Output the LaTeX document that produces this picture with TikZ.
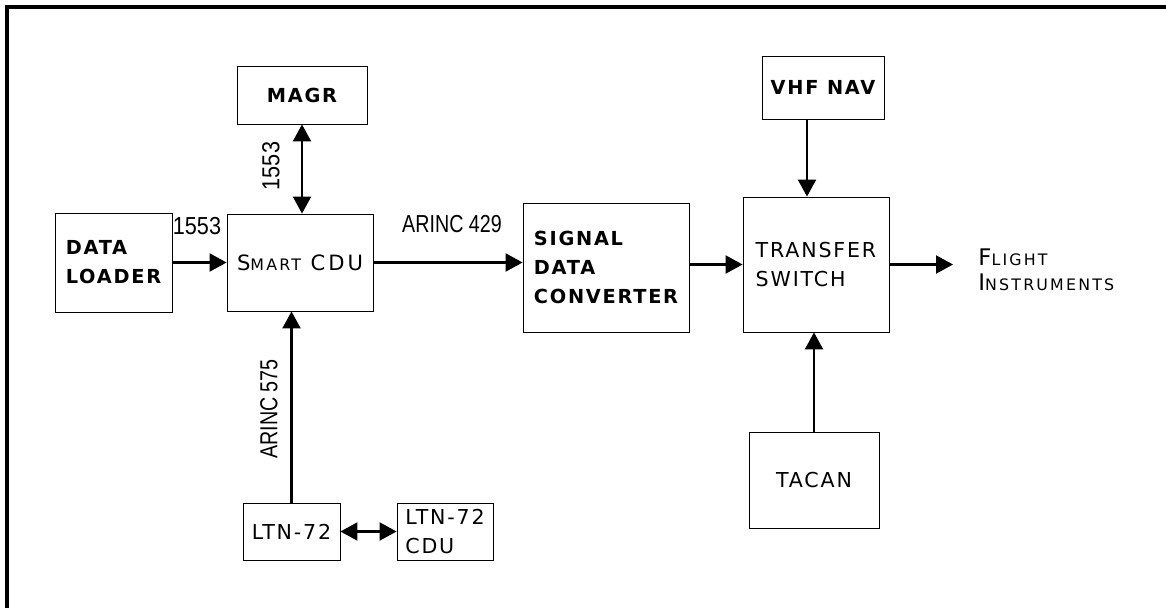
\documentclass[tikz,border=0pt]{standalone}
\usepackage{fontspec}
\usetikzlibrary{positioning, arrows.meta}
\newfontfamily\platefont[LetterSpace=9]{DejaVu Sans}
\newfontfamily\widefont[LetterSpace=14]{DejaVu Sans}
\newfontfamily\busfont[FakeStretch=0.8]{Liberation Sans}
\newfontfamily\numfont[FakeStretch=0.88]{Liberation Sans}
\newcommand\lowcaps[1]{{\fontsize{9}{16}\selectfont #1}}

\begin{document}
\begin{tikzpicture}[x=0.02cm, y=-0.02cm,
  unit/.style={draw, line width=0.5pt, inner sep=1pt, align=left,
               font=\platefont\fontsize{11.7}{16}\selectfont},
  boldunit/.style={unit, font=\platefont\bfseries\fontsize{11}{16.5}\selectfont},
  link/.style={line width=1.2pt, -{Triangle[length=0.34cm, width=0.36cm]}},
  twoway/.style={link, {Triangle[length=0.34cm, width=0.36cm]}-{Triangle[length=0.34cm, width=0.36cm]}},
  buslabel/.style={inner sep=0pt, font=\busfont\fontsize{14}{14}\selectfont},
  numlabel/.style={inner sep=0pt, font=\numfont\fontsize{14}{14}\selectfont},
]
  \useasboundingbox (0,0) rectangle (1166,608);
  % frame
  \draw[line width=0.08cm] (7,608) -- (7,7) -- (1166,7);

  % units
  \node[boldunit, minimum width=2.6cm, minimum height=1.16cm] (magr) at (302,95) {MAGR};
  \node[boldunit, minimum width=2.34cm, minimum height=1.98cm] (loader) at (113.5,262.5) {DATA\\LOADER};
  \node[unit, minimum width=2.92cm, minimum height=1.94cm, font=\widefont\fontsize{12}{16}\selectfont] (cdu) at (300,262.5) {S\lowcaps{MART} CDU};
  \node[boldunit, minimum width=3.32cm, minimum height=2.58cm] (sdc) at (606,267.5) {SIGNAL\\DATA\\CONVERTER};
  \node[unit, minimum width=2.92cm, minimum height=2.7cm] (ts) at (816,264.5) {TRANSFER\\SWITCH};
  \node[boldunit, minimum width=2.44cm, minimum height=1.26cm] (vhf) at (823,87.5) {VHF NAV};
  \node[unit, minimum width=2.6cm, minimum height=1.92cm] (tacan) at (814,480) {TACAN};
  \node[unit, minimum width=1.94cm, minimum height=1.14cm] (ltn) at (291.5,531.5) {LTN-72};
  \node[unit, minimum width=1.92cm, minimum height=1.14cm] (ltncdu) at (445,531.5) {LTN-72\\CDU};
  \node[anchor=west, align=left, inner sep=0pt, font=\widefont\fontsize{13}{14}\selectfont] (instr) at (978,270)
    {F\lowcaps{LIGHT}\\I\lowcaps{NSTRUMENTS}};
  \coordinate (out) at (953,264.5);

  % bus labels
  \node[numlabel] (busA) at (197,226) {1553};
  \node[numlabel, rotate=90] (busB) at (271,166) {1553};
  \node[buslabel] (bus429) at (452,224) {ARINC 429};
  \node[buslabel, rotate=90] (bus575) at (269,409) {ARINC 575};

  % connectors
  \draw[twoway] (magr.south) -- (magr.south |- cdu.north);
  \draw[link] (loader.east) -- (loader.east -| cdu.west);
  \draw[link] (cdu.east) -- (cdu.east -| sdc.west);
  \draw[link] (ts.west -| sdc.east) -- (ts.west);
  \draw[link] (ts.east) -- (out);
  \draw[link] ([xshift=-0.18cm]ts.north |- vhf.south) -- ([xshift=-0.18cm]ts.north);
  \draw[link] (tacan.north) -- (tacan.north |- ts.south);
  \draw[link] (ltn.north) -- (ltn.north |- cdu.south);
  \draw[twoway] (ltn.east) -- (ltncdu.west);
\end{tikzpicture}
\end{document}
